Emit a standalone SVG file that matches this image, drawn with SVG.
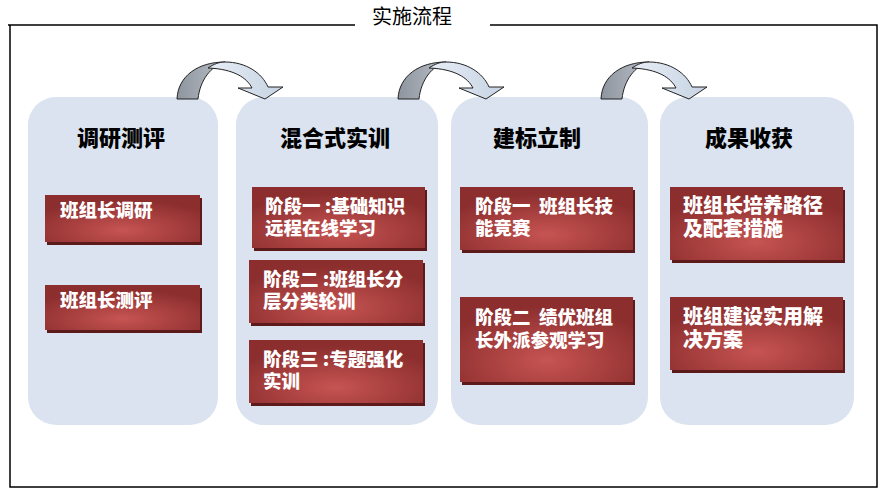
<svg xmlns="http://www.w3.org/2000/svg" width="885" height="498" viewBox="0 0 885 498">
<style>
.frame{fill:none;stroke:#000;stroke-width:1.5}
.col{fill:#DAE3EF}
.ct{font-family:"Noto Sans CJK SC",sans-serif;font-weight:900;font-size:22px;fill:#000}
.bx{fill:url(#rg)}
.sh{fill:#5C1A1A}
.bt{font-family:"Noto Sans CJK SC",sans-serif;font-weight:900;font-size:18.5px;fill:#fff}
.bt4{font-size:20px}
.title{font-family:"Noto Sans CJK SC",serif;font-size:20px;fill:#000}
.dk{fill:url(#dg);stroke:#222;stroke-width:1}
.lt{fill:url(#lg);stroke:#222;stroke-width:1}
</style>
<defs>
<radialGradient id="rg" cx="50%" cy="75%" r="65%">
<stop offset="0" stop-color="#C65452"/>
<stop offset="1" stop-color="#8C2E2E"/>
</radialGradient>
<linearGradient id="dg" x1="0" y1="0" x2="1" y2="0">
<stop offset="0" stop-color="#8E959E"/>
<stop offset="1" stop-color="#B8BEC6"/>
</linearGradient>
<linearGradient id="lg" x1="0" y1="0" x2="1" y2="0">
<stop offset="0" stop-color="#E8EEF6"/>
<stop offset="1" stop-color="#C6D3E3"/>
</linearGradient>
<g id="arr">
<path class="dk" d="M177,99 C178,76 198,62 225,62 C211,66 200,80 198,99 Z"/>
<path class="lt" d="M225,62 C246,62 262,73 268,87 L283,87 L265,99 L238,88 L252,88 C247,78 234,69 208,68 C214,64 219,62 225,62 Z"/>
</g>
</defs>
<g id="frame">
<path class="frame" d="M8,25 H355 M490,25 H877 V487 H10 V25"/>
<text class="title" x="372" y="24">实施流程</text>
</g>
<g id="col1">
<rect class="col" x="28" y="97" width="190" height="328" rx="28"/>
<text class="ct" x="77" y="146">调研测评</text>
</g>
<g id="col2">
<rect class="col" x="236" y="97" width="202" height="328" rx="28"/>
<text class="ct" x="280" y="146">混合式实训</text>
</g>
<g id="col3">
<rect class="col" x="451" y="97" width="197" height="328" rx="28"/>
<text class="ct" x="493" y="146">建标立制</text>
</g>
<g id="col4">
<rect class="col" x="660" y="97" width="194" height="328" rx="28"/>
<text class="ct" x="705" y="146">成果收获</text>
</g>
<g id="connectors">
<use href="#arr"/>
<use href="#arr" x="221"/>
<use href="#arr" x="424"/>
</g>
<g id="b1a">
<rect class="sh" x="47" y="198" width="155" height="47"/>
<rect class="bx" x="45" y="195" width="155" height="47"/>
<text class="bt" x="60" y="217">班组长调研</text>
</g>
<g id="b1b">
<rect class="sh" x="47" y="288" width="155" height="45"/>
<rect class="bx" x="45" y="285" width="155" height="45"/>
<text class="bt" x="60" y="307">班组长测评</text>
</g>
<g id="b2a">
<rect class="sh" x="254" y="190" width="173" height="61"/>
<rect class="bx" x="252" y="187" width="173" height="61"/>
<text class="bt" x="265" y="213">阶段一 :基础知识</text>
<text class="bt" x="265" y="235">远程在线学习</text>
</g>
<g id="b2b">
<rect class="sh" x="251" y="263" width="174" height="63"/>
<rect class="bx" x="249" y="260" width="174" height="63"/>
<text class="bt" x="263" y="286">阶段二 :班组长分</text>
<text class="bt" x="263" y="308">层分类轮训</text>
</g>
<g id="b2c">
<rect class="sh" x="251" y="343" width="174" height="63"/>
<rect class="bx" x="249" y="340" width="174" height="63"/>
<text class="bt" x="263" y="366">阶段三 :专题强化</text>
<text class="bt" x="263" y="388">实训</text>
</g>
<g id="b3a">
<rect class="sh" x="462" y="190" width="173" height="63"/>
<rect class="bx" x="460" y="187" width="173" height="63"/>
<text class="bt" x="475" y="213" xml:space="preserve">阶段一  班组长技</text>
<text class="bt" x="475" y="235">能竞赛</text>
</g>
<g id="b3b">
<rect class="sh" x="462" y="300" width="173" height="85"/>
<rect class="bx" x="460" y="297" width="173" height="85"/>
<text class="bt" x="475" y="324" xml:space="preserve">阶段二  绩优班组</text>
<text class="bt" x="475" y="347">长外派参观学习</text>
</g>
<g id="b4a">
<rect class="sh" x="672" y="190" width="173" height="73"/>
<rect class="bx" x="670" y="187" width="173" height="73"/>
<text class="bt bt4" x="683" y="213">班组长培养路径</text>
<text class="bt bt4" x="683" y="236">及配套措施</text>
</g>
<g id="b4b">
<rect class="sh" x="672" y="300" width="173" height="73"/>
<rect class="bx" x="670" y="297" width="173" height="73"/>
<text class="bt bt4" x="683" y="324">班组建设实用解</text>
<text class="bt bt4" x="683" y="347">决方案</text>
</g>
</svg>
